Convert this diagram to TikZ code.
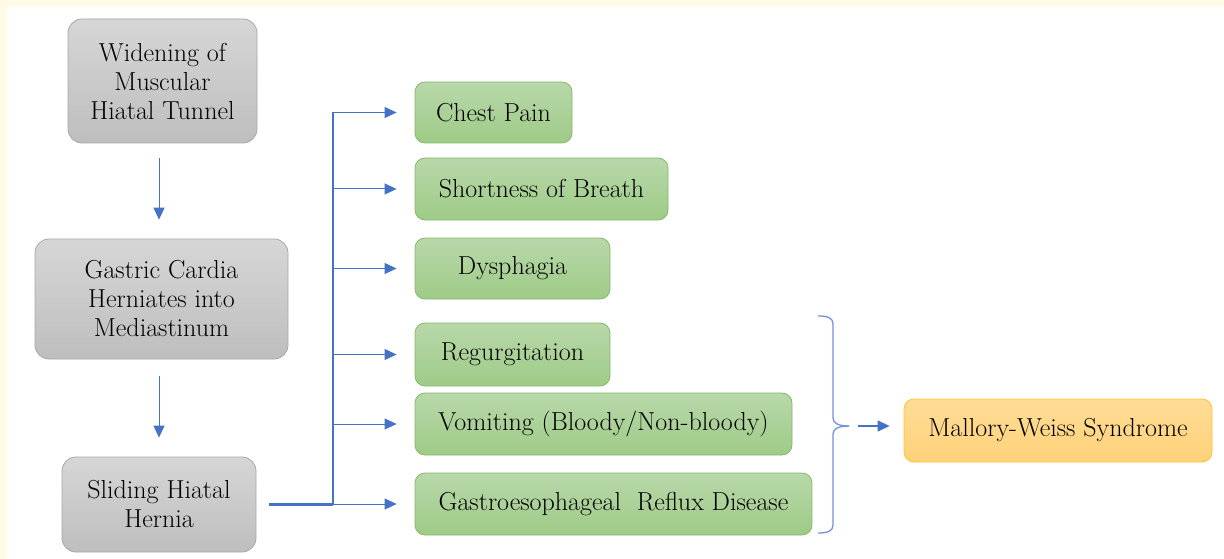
\documentclass[tikz,border=0pt]{standalone}
\usepackage{fontspec}
\usetikzlibrary{arrows.meta,calc}
\definecolor{cream}{HTML}{FFFBE6}
\definecolor{lineblue}{HTML}{4472C4}
\definecolor{braceblue}{HTML}{6F93D6}
\definecolor{grayT}{HTML}{D6D6D6}
\definecolor{grayB}{HTML}{BEBEBE}
\definecolor{grayD}{HTML}{A8A8A8}
\definecolor{greenT}{HTML}{B8D8AA}
\definecolor{greenB}{HTML}{9ECB87}
\definecolor{greenD}{HTML}{86BA6A}
\definecolor{orangeT}{HTML}{FFDC96}
\definecolor{orangeB}{HTML}{FFD27A}
\definecolor{orangeD}{HTML}{FFC330}
\tikzset{
  basebox/.style={rounded corners=14pt, inner sep=0pt, align=center, line width=0.8pt,
    font=\fontsize{26}{29}\selectfont},
  graybox/.style={basebox, draw=grayD, top color=grayT, bottom color=grayB},
  greenbox/.style={basebox, draw=greenD, top color=greenT, bottom color=greenB, rounded corners=10pt},
  orangebox/.style={basebox, draw=orangeD, top color=orangeT, bottom color=orangeB, rounded corners=10pt},
  arr/.style={draw=lineblue, line width=1pt, -{Triangle[length=12pt,width=11pt]}},
  link/.style={draw=lineblue, line width=2.5pt},
  trunkline/.style={draw=lineblue, line width=2pt},
  bracestyle/.style={draw=braceblue, line width=1.3pt}
}
\begin{document}
\begin{tikzpicture}[x=1pt,y=-1pt]
\useasboundingbox (0,0) rectangle (1224,559);
\fill[cream] (0,0) rectangle (1224,559);
\fill[white] (7,7) rectangle (1224,559);

% left column
\node[graybox, minimum width=189pt, minimum height=124pt] (w) at (162.5,81) {Widening of\\Muscular\\Hiatal Tunnel};
\node[graybox, minimum width=253pt, minimum height=120pt] (g) at (161.5,299) {Gastric Cardia\\Herniates into\\Mediastinum};
\node[graybox, minimum width=194pt, minimum height=95pt] (s) at (159,504.5) {Sliding Hiatal\\Hernia};

% symptom boxes
\node[greenbox, minimum width=157pt, minimum height=61pt] (c1) at (493.5,112.5) {Chest Pain};
\node[greenbox, minimum width=253pt, minimum height=62pt] (c2) at (541.5,189) {Shortness of Breath};
\node[greenbox, minimum width=195pt, minimum height=61pt] (c3) at (512.5,268.5) {Dysphagia};
\node[greenbox, minimum width=195pt, minimum height=63pt] (c4) at (512.5,354.5) {Regurgitation};
\node[greenbox, minimum width=377pt, minimum height=62pt] (c5) at (603.5,424) {Vomiting (Bloody/Non-bloody)};
\node[greenbox, minimum width=397pt, minimum height=62pt] (c6) at (613.5,504) {Gastroesophageal\ \ Reflux Disease};

% outcome
\node[orangebox, minimum width=308pt, minimum height=63pt] (m) at (1058,430.5) {Mallory-Weiss Syndrome};

% vertical arrows
\draw[arr, shorten <=15pt, shorten >=19pt] (w.south -| s.center) -- (g.north -| s.center);
\draw[arr, shorten <=17pt, shorten >=19pt] (g.south -| s.center) -- (s.north -| s.center);

% trunk
\coordinate (tx) at (333,0);
\draw[link, shorten <=13pt] (s.east) -- (s.east -| tx);
\draw[trunkline] (c1.west -| tx) -- (c6.west -| tx);
\foreach \n in {c1,c2,c3,c4,c5,c6}{
  \draw[arr, shorten >=18pt] (\n.west -| tx) -- (\n.west);
}

% brace
\coordinate (bt) at (849,426);
\draw[bracestyle] (818,316) .. controls (828,316) and (833,318) .. (833,324)
  -- (833,418) .. controls (833,423) and (838,426) .. (bt);
\draw[bracestyle] (818,533) .. controls (828,533) and (833,531) .. (833,525)
  -- (833,434) .. controls (833,429) and (838,426) .. (bt);
\draw[arr, line width=1.2pt, shorten <=9pt, shorten >=14pt] (bt) -- (bt -| m.west);
\end{tikzpicture}
\end{document}
